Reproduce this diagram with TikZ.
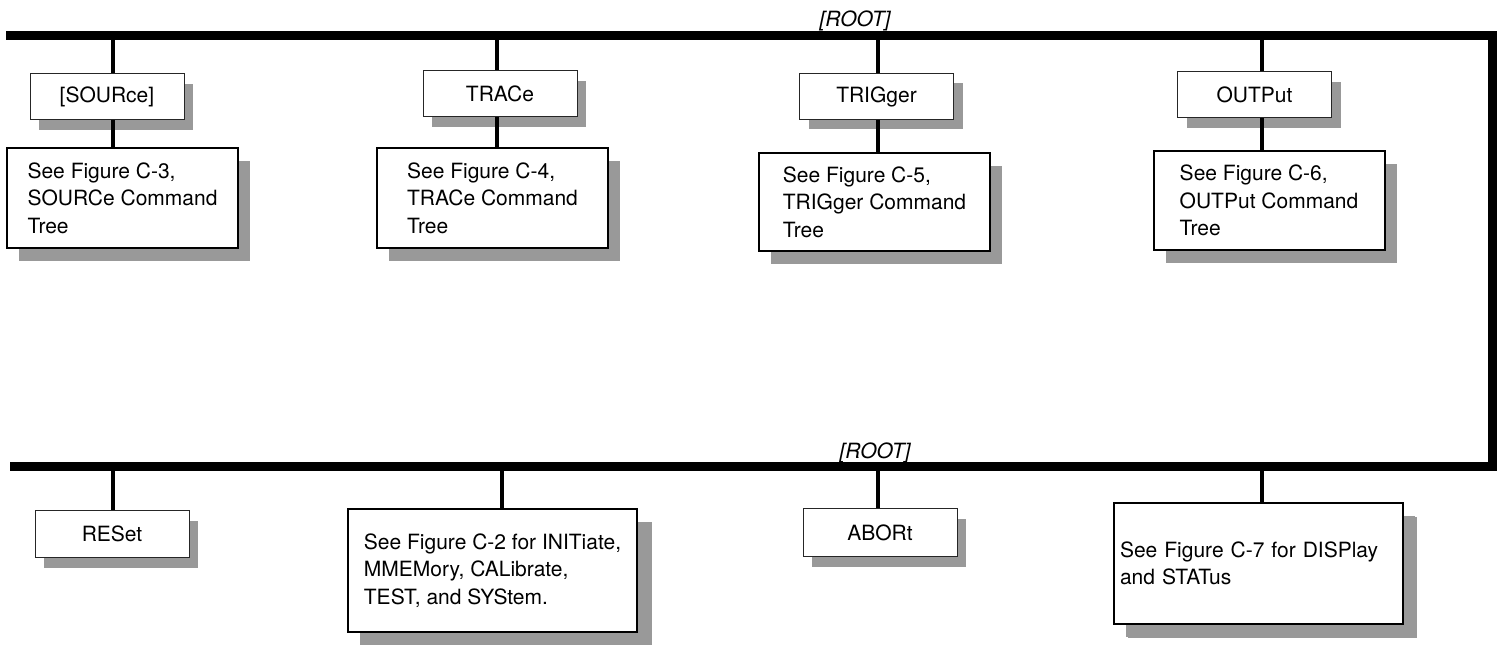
\documentclass[tikz,border=0pt]{standalone}
\usepackage{fontspec}
\setmainfont{TeX Gyre Heros}
\usetikzlibrary{shadows}
\definecolor{shade}{gray}{0.6}
\tikzset{
  txt/.style={font=\fontsize{21}{27.5}\selectfont},
  lbl/.style={txt, draw=black!85, line width=1pt, fill=white,
    minimum width=154pt, minimum height=46pt, inner sep=0pt,
    drop shadow={shadow xshift=9pt, shadow yshift=-10pt, fill=shade, opacity=1}},
  desc/.style={txt, draw=black, line width=2pt, fill=white, align=left,
    inner sep=0pt,
    drop shadow={shadow xshift=12pt, shadow yshift=-13pt, fill=shade, opacity=1}},
  stem/.style={line width=4pt},
  bus/.style={line width=9pt, line join=miter},
  rootlbl/.style={font=\fontsize{21}{25}\selectfont\itshape, anchor=base, inner sep=0pt}
}
\begin{document}
\begin{tikzpicture}[x=1pt,y=-1pt]
\useasboundingbox (0,0) rectangle (1501,647);

% bus
\coordinate (tl) at (6,36);
\coordinate (tr) at (1492,36);
\coordinate (br) at (1492,466);
\coordinate (bl) at (10,466);
\draw[bus] (tl) -- (tr) -- (br) -- (bl);
\node[rootlbl] (root1) at (855,27) {[ROOT]};
\node[rootlbl] (root2) at (875,458) {[ROOT]};

% top row
\node[lbl] (src) at (107,97) {[SOURce]};
\node[lbl] (trc) at (500,94) {TRACe};
\node[lbl] (trg) at (876.5,96.5) {TRIGger};
\node[lbl] (out) at (1254.5,95) {OUTPut};

\node[desc, minimum width=231pt, minimum height=100pt] (d3) at (122.5,198)
  {See Figure C-3,\\SOURCe Command\\Tree};
\node[desc, minimum width=231pt, minimum height=100pt] (d4) at (492.5,198)
  {See Figure C-4,\\TRACe Command\\Tree};
\node[desc, minimum width=231pt, minimum height=98pt] (d5) at (874.5,202)
  {See Figure C-5,\\TRIGger Command\\Tree};
\node[desc, minimum width=231pt, minimum height=98pt] (d6) at (1269,200.5)
  {See Figure C-6,\\OUTPut Command\\Tree};

\coordinate (s1) at (113,36);
\coordinate (s2) at (497,36);
\coordinate (s3) at (878,36);
\coordinate (s4) at (1262,36);
\draw[stem] (s1) -- (s1 |- src.north);
\draw[stem] (s1 |- src.south) -- (s1 |- d3.north);
\draw[stem] (s2) -- (s2 |- trc.north);
\draw[stem] (s2 |- trc.south) -- (s2 |- d4.north);
\draw[stem] (s3) -- (s3 |- trg.north);
\draw[stem] (s3 |- trg.south) -- (s3 |- d5.north);
\draw[stem] (s4) -- (s4 |- out.north);
\draw[stem] (s4 |- out.south) -- (s4 |- d6.north);

% bottom row
\node[lbl, minimum height=47pt] (rst) at (112,534) {RESet};
\node[desc, minimum width=289pt, minimum height=123pt,
  drop shadow={shadow xshift=15pt, shadow yshift=-13pt, fill=shade, opacity=1}] (d2) at (492.5,570.5)
  {See Figure C-2 for INITiate,\\MMEMory, CALibrate,\\TEST, and SYStem.};
\node[lbl, minimum height=48pt] (abt) at (880,532.5) {ABORt};
\node[desc, text width=277pt, inner xsep=6pt, minimum height=121pt,
  drop shadow={shadow xshift=14pt, shadow yshift=-14pt, fill=shade, opacity=1}] (d7) at (1258.5,563.5)
  {See Figure C-7 for DISPlay\\and STATus};

\coordinate (b1) at (113,466);
\coordinate (b2) at (502,466);
\coordinate (b3) at (878,466);
\coordinate (b4) at (1262,466);
\draw[stem] (b1) -- (b1 |- rst.north);
\draw[stem] (b2) -- (b2 |- d2.north);
\draw[stem] (b3) -- (b3 |- abt.north);
\draw[stem] (b4) -- (b4 |- d7.north);
\end{tikzpicture}
\end{document}
